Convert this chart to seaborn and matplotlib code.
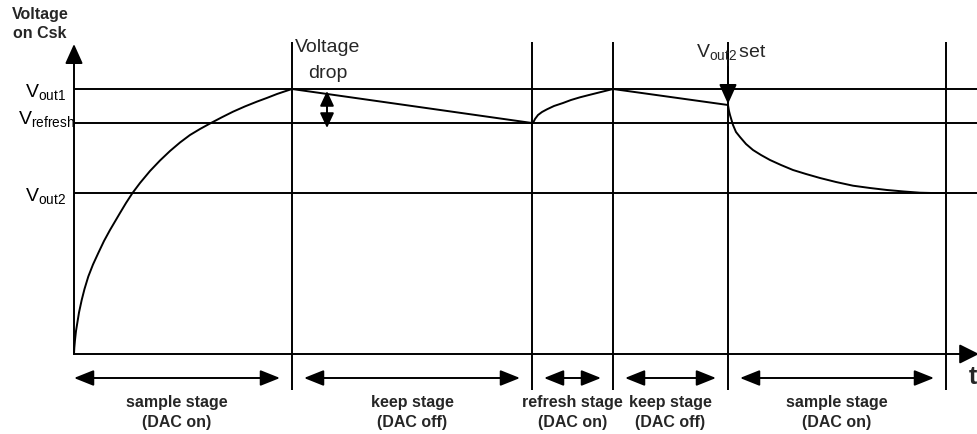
import matplotlib
matplotlib.use("Agg")
import matplotlib.pyplot as plt
import seaborn as sns
import pandas as pd

# Voltage on the sample capacitor Csk over time (arbitrary units)
# first sample stage: charging from 0 to Vout1
t_sample1 = [0, 0.3, 1, 2, 3.3, 5, 7.7, 10.5, 14.3, 19, 24.3, 30, 36, 46, 52, 58.5, 66, 76,
             86, 96, 106, 116, 126, 136, 148, 159, 171, 183, 193, 203, 211, 218]
v_sample1 = [0, 6, 14, 23, 31, 41.5, 54, 65, 77.5, 89.5, 101, 113, 124, 141, 151, 161, 171, 183,
             193.5, 203, 211.5, 219, 225, 230.5, 236.8, 242.3, 247.6, 252.4, 256.1, 260, 262.7, 265]
# keep stage: slow leakage down to Vrefresh
t_keep1 = [458]
v_keep1 = [231]
# refresh stage: recharge back to Vout1
t_refresh = [459, 461, 464, 468, 473, 480, 489, 497, 506, 515, 523, 531, 539]
v_refresh = [231, 235, 239, 242, 244.7, 248, 251, 254, 256.7, 259, 261, 263, 265]
# keep stage before the new set point
t_keep2 = [654]
v_keep2 = [249]
# second sample stage: settling to Vout2
t_sample2 = [655, 656, 659, 662, 666, 672, 679, 687, 696, 707, 719, 732, 746, 762, 779,
             796, 813, 830, 846, 858, 866, 872]
v_sample2 = [243, 239, 229, 222, 217, 210, 204, 199, 194, 189, 184, 180, 176, 172, 168.3,
             166, 164, 162.5, 161.3, 161, 161, 161]

level_names = [r"V$_{\mathrm{out1}}$", r"V$_{\mathrm{refresh}}$", r"V$_{\mathrm{out2}}$"]
level_values = [265, 231, 161]

stage_ends = [218, 458, 539, 654, 872]
stage_names = ["sample stage", "keep stage", "refresh stage", "keep stage", "sample stage"]
stage_modes = ["(DAC on)", "(DAC off)", "(DAC on)", "(DAC off)", "(DAC on)"]

sns.set_theme(style="white")
plt.rcParams["font.family"] = ["Liberation Sans", "DejaVu Sans"]
plt.rcParams["mathtext.fontset"] = "custom"
plt.rcParams["mathtext.rm"] = "Liberation Sans"
plt.rcParams["mathtext.it"] = "Liberation Sans:italic"
plt.rcParams["mathtext.bf"] = "Liberation Sans:bold"

fig = plt.figure(figsize=(9.78, 4.34), dpi=100)
ax = fig.add_axes([0, 0, 1, 1])

lw = 1.4
k = "black"

# capacitor voltage curve
df = pd.DataFrame({
    "t": t_sample1 + t_keep1 + t_refresh + t_keep2 + t_sample2,
    "v": v_sample1 + v_keep1 + v_refresh + v_keep2 + v_sample2,
})
sns.lineplot(data=df, x="t", y="v", ax=ax, color=k, lw=lw, sort=False, estimator=None)
ax.set_xlim(-74, 904)
ax.set_ylim(-80, 354)
ax.axis("off")

# level lines and their labels
for lv in level_values:
    ax.plot([0, 910], [lv, lv], color=k, lw=lw, solid_capstyle="butt")
for name, lv, dy in zip(level_names, level_values, [-3, 4, -3]):
    ax.text(-28, lv + dy, name, ha="center", va="center", fontsize=14, color=k)

# stage boundaries
for te in stage_ends:
    ax.plot([te, te], [312, -36], color=k, lw=lw, solid_capstyle="butt")

# axes with arrowheads
ax.annotate("", xy=(0, 310), xytext=(0, 0), annotation_clip=False,
            arrowprops=dict(arrowstyle="-|>,head_length=1.0,head_width=0.45", color=k, lw=lw,
                            shrinkA=0, shrinkB=0))
ax.annotate("", xy=(905, 0), xytext=(0, 0), annotation_clip=False,
            arrowprops=dict(arrowstyle="-|>,head_length=1.0,head_width=0.5", color=k, lw=lw,
                            shrinkA=0, shrinkB=0))

# stage arrows and labels
starts = [0] + stage_ends[:-1]
for i, (s, e) in enumerate(zip(starts, stage_ends)):
    a = s if i == 0 else s + 12
    b = e - 12
    ax.annotate("", xy=(b, -24), xytext=(a, -24),
                arrowprops=dict(arrowstyle="<|-|>,head_length=1.0,head_width=0.4", color=k, lw=lw,
                                shrinkA=0, shrinkB=0))
    cx = (a + b) / 2
    ax.text(cx, -49, stage_names[i], ha="center", va="center", fontsize=11.5, fontweight="bold")
    ax.text(cx, -69, stage_modes[i], ha="center", va="center", fontsize=11.5, fontweight="bold")

# voltage drop annotation
ax.annotate("", xy=(253, 263), xytext=(253, 226),
            arrowprops=dict(arrowstyle="<|-|>,head_length=0.75,head_width=0.35", color=k, lw=lw,
                            shrinkA=0, shrinkB=0))
ax.text(254, 306, "Voltage", ha="center", va="center", fontsize=14)
ax.text(254, 281, "drop", ha="center", va="center", fontsize=14)

# Vout2 set annotation
ax.annotate("", xy=(654, 250), xytext=(654, 287),
            arrowprops=dict(arrowstyle="-|>,head_length=1.0,head_width=0.45", color=k, lw=lw,
                            shrinkA=0, shrinkB=0))
ax.text(657, 302, r"V$_{\mathrm{out2}}\,$set", ha="center", va="center", fontsize=14)

# axis titles
ax.text(-34, 340, "Voltage", ha="center", va="center", fontsize=11.5, fontweight="bold")
ax.text(-34, 321, "on Csk", ha="center", va="center", fontsize=11.5, fontweight="bold")
ax.text(899, -23, "t", ha="center", va="center", fontsize=18, fontweight="bold")

fig.savefig("out.png", dpi=100)
